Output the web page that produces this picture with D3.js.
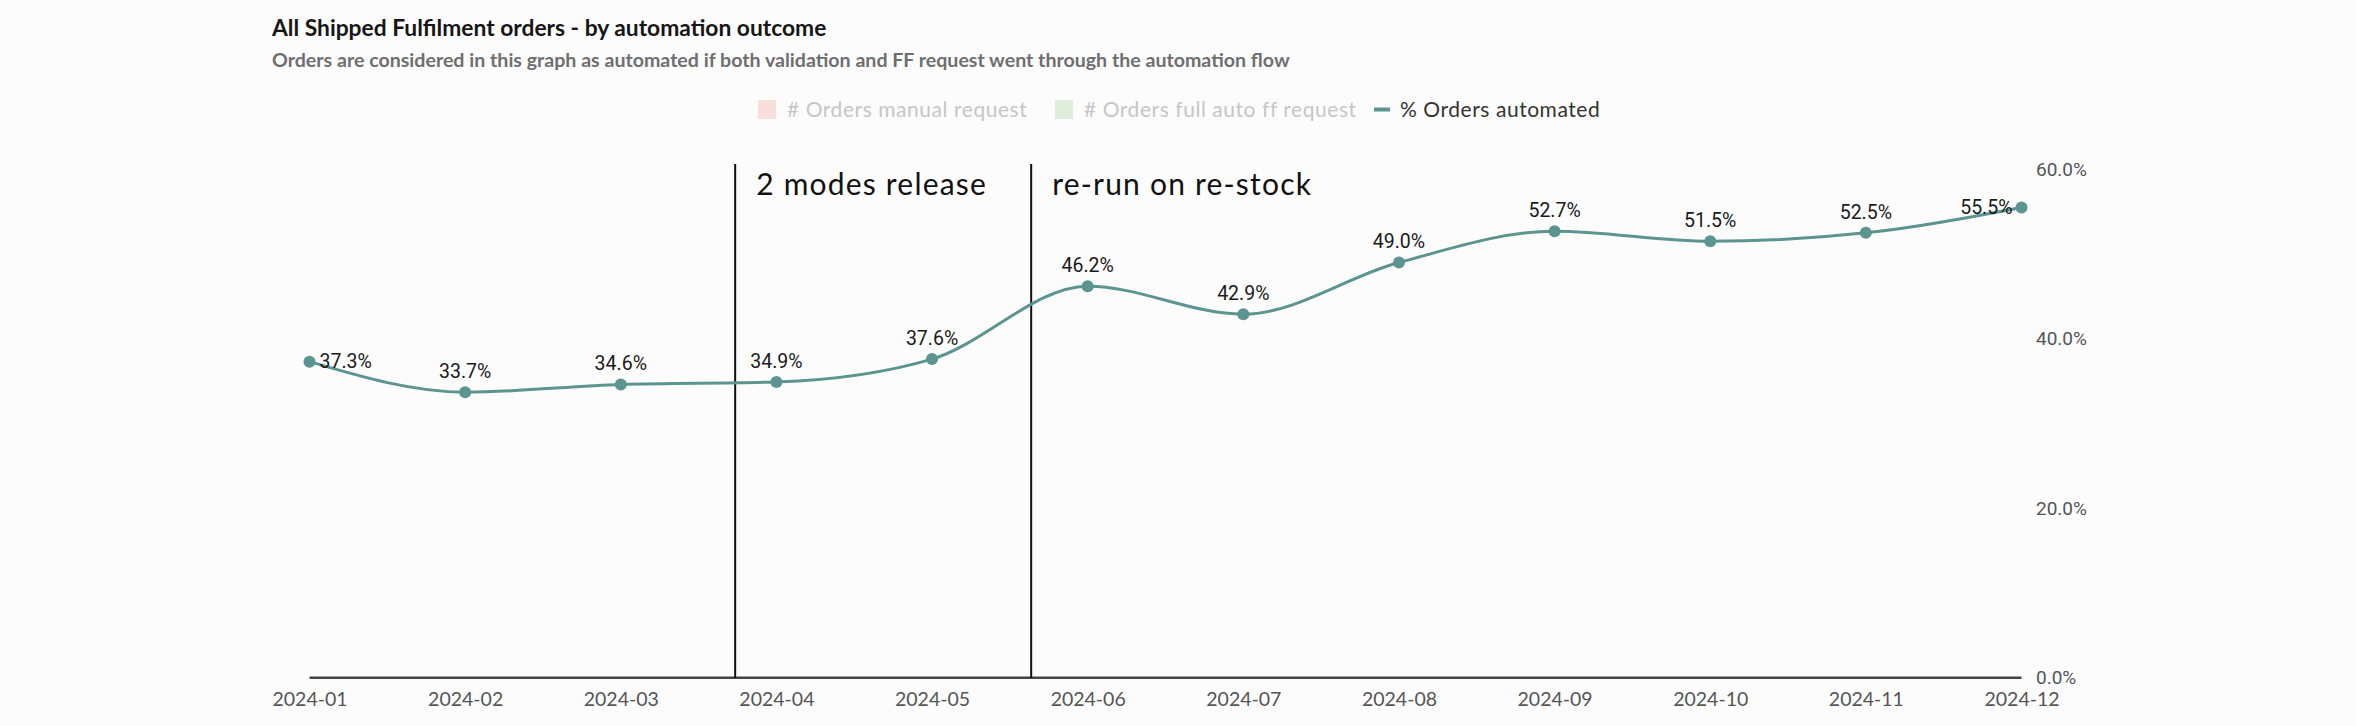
<!DOCTYPE html>
<html>
<head>
<meta charset="utf-8">
<script src="https://cdn.jsdelivr.net/npm/d3@7"></script>
<style>
  html, body { margin: 0; padding: 0; background: #fcfcfc; }
  svg { display: block; }
</style>
</head>
<body>
<svg id="chart" width="2356" height="726"></svg>
<script>
// ---------- data ----------
const months = ["2024-01","2024-02","2024-03","2024-04","2024-05","2024-06","2024-07","2024-08","2024-09","2024-10","2024-11","2024-12"];
const pctAutomated = [0.373, 0.337, 0.346, 0.349, 0.376, 0.462, 0.429, 0.490, 0.527, 0.515, 0.525, 0.555];
const yTicks = [0, 0.2, 0.4, 0.6];
const legendLabels = ["# Orders manual request", "# Orders full auto ff request", "% Orders automated"];
const annotationLabels = ["2 modes release", "re-run on re-stock"];
const annotationPositions = [2.735, 4.637]; // position in category units
const titleText = "All Shipped Fulfilment orders - by automation outcome";
const subtitleText = "Orders are considered in this graph as automated if both validation and FF request went through the automation flow";

// ---------- setup ----------
const svg = d3.select("#chart");
const W = 2356, H = 726;
svg.append("rect").attr("width", W).attr("height", H).attr("fill", "#fcfcfc");

const teal = "#5b9490";
const geo = "Lato, 'Open Sans', sans-serif";
const num = "Roboto, 'Liberation Sans', sans-serif";

const x = d3.scalePoint().domain(months).range([309.5, 2021.5]);
const y = d3.scaleLinear().domain([0, 0.6]).range([677.7, 169.3]);
const step = x.step();
const xAt = p => x(months[0]) + p * step;

// ---------- title ----------
svg.append("text").attr("x", 272).attr("y", 36)
  .attr("font-family", geo).attr("font-size", 22.8).attr("font-weight", 700)
  .attr("fill", "#161616").text(titleText);
svg.append("text").attr("x", 272).attr("y", 67)
  .attr("font-family", geo).attr("font-size", 19.6).attr("font-weight", 700)
  .attr("fill", "#6f6f6f").text(subtitleText);

// ---------- legend ----------
const legend = svg.append("g").attr("font-family", geo).attr("font-size", 21).attr("letter-spacing", 0.55);
legend.append("rect").attr("x", 758).attr("y", 100).attr("width", 18).attr("height", 19).attr("fill", "#f9dfdc");
legend.append("text").attr("x", 787).attr("y", 117).attr("fill", "#c6c6c6").text(legendLabels[0]);
legend.append("rect").attr("x", 1055).attr("y", 100).attr("width", 18).attr("height", 19).attr("fill", "#dfeedb");
legend.append("text").attr("x", 1084).attr("y", 117).attr("fill", "#c6c6c6").text(legendLabels[1]);
legend.append("rect").attr("x", 1374).attr("y", 107.5).attr("width", 16).attr("height", 4).attr("fill", teal);
legend.append("text").attr("x", 1400).attr("y", 117).attr("fill", "#333333").text(legendLabels[2]);

// ---------- right y axis ----------
svg.append("g").selectAll("text").data(yTicks).join("text")
  .attr("x", 2036).attr("y", d => y(d)).attr("dy", "0.35em")
  .attr("font-family", num).attr("font-size", 19).attr("fill", "#555555")
  .text(d => d3.format(".1%")(d));

// ---------- x axis ----------
const xAxisG = svg.append("g").attr("transform", `translate(0,${y(0)})`)
  .call(d3.axisBottom(x).tickSize(0).tickPadding(14));
xAxisG.select(".domain").attr("stroke", "#444").attr("stroke-width", 2.5)
  .attr("d", `M${x(months[0])},0H${x(months[months.length-1])}`);
xAxisG.selectAll("text").attr("font-family", geo).attr("font-size", 19.5).attr("fill", "#555555");

// ---------- annotations ----------
annotationPositions.forEach((p, i) => {
  svg.append("line").attr("x1", xAt(p)).attr("x2", xAt(p))
    .attr("y1", 164).attr("y2", y(0)).attr("stroke", "#111").attr("stroke-width", 2);
  svg.append("text").attr("x", xAt(p) + 21).attr("y", 195)
    .attr("font-family", geo).attr("font-size", 30).attr("letter-spacing", 1.2).attr("fill", "#111")
    .text(annotationLabels[i]);
});

// ---------- line ----------
const pts = months.map((m, i) => ({ m, v: pctAutomated[i], i }));
svg.append("path").datum(pts)
  .attr("fill", "none").attr("stroke", teal).attr("stroke-width", 3)
  .attr("d", d3.line().x(d => x(d.m)).y(d => y(d.v)).curve(d3.curveMonotoneX));

svg.selectAll("circle.pt").data(pts).join("circle").attr("class", "pt")
  .attr("cx", d => x(d.m)).attr("cy", d => y(d.v)).attr("r", 6).attr("fill", teal);

// ---------- data labels ----------
const last = pts.length - 1;
svg.selectAll("text.lbl").data(pts).join("text").attr("class", "lbl")
  .attr("font-family", num).attr("font-size", 19.5).attr("fill", "#1a1a1a")
  .attr("text-anchor", d => d.i === 0 ? "start" : (d.i === last ? "end" : "middle"))
  .attr("x", d => d.i === 0 ? x(d.m) + 10 : (d.i === last ? x(d.m) - 9 : x(d.m)))
  .attr("y", d => (d.i === 0 || d.i === last) ? y(d.v) : y(d.v) - 21)
  .attr("dy", "0.35em")
  .text(d => d3.format(".1%")(d.v));
</script>
</body>
</html>
